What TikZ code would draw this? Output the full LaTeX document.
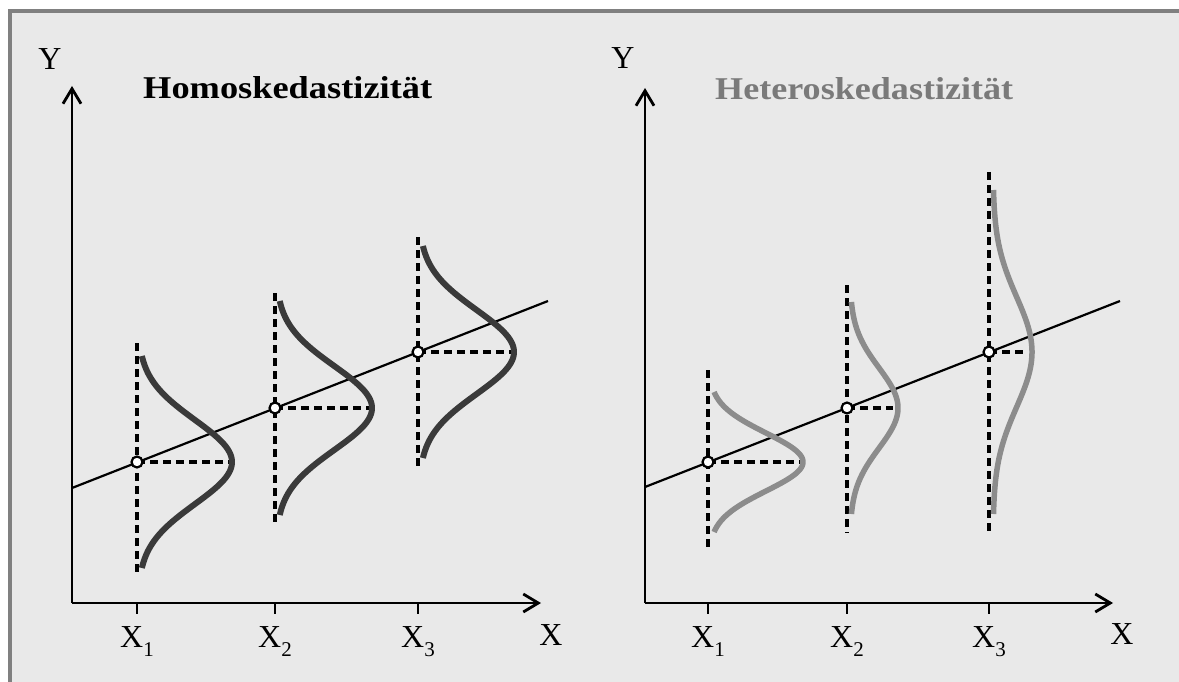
\documentclass[tikz,border=0pt]{standalone}
\usepackage{fontspec}
\setmainfont{Liberation Serif}
\usetikzlibrary{arrows.meta}
\definecolor{bg}{HTML}{E9E9E9}
\definecolor{framegray}{HTML}{808080}
\definecolor{darkcurve}{HTML}{3A3A3A}
\definecolor{lightcurve}{HTML}{8C8C8C}
\definecolor{titlegray}{HTML}{7A7A7A}
\begin{document}
\begin{tikzpicture}[x=1pt,y=-1pt,
  axisline/.style={line width=2.8pt,-{Straight Barb[length=15pt,width=18pt,line width=2.8pt]}},
  tickline/.style={line width=2.8pt},
  regline/.style={line width=2.2pt},
  dashline/.style={line width=3.2pt,dash pattern=on 8pt off 5pt},
  darkc/.style={line width=6pt,darkcurve},
  lightc/.style={line width=5.5pt,lightcurve},
  dot/.style={circle,draw,fill=white,line width=2.2pt,inner sep=0pt,minimum size=11pt},
  lab/.style={inner sep=0pt,anchor=base,font=\fontsize{32pt}{32pt}\selectfont},
  titlenode/.style={inner sep=0pt,anchor=base west}]
\useasboundingbox (0,0) rectangle (1179,682);
% frame
\fill[bg] (9.5,11) rectangle (1200,700);
\draw[framegray,line width=4pt] (9.5,700) -- (9.5,11) -- (1200,11);

\newcommand{\sublab}[1]{X\raisebox{-9pt}{\fontsize{21pt}{21pt}\selectfont #1}}

% ================= LEFT PANEL =================
\coordinate (LO) at (72,603);
\coordinate (LYt) at (72,86);
\coordinate (LXt) at (541,603);
\draw[axisline] (LO) -- (LYt);
\draw[axisline] (LO) -- (LXt);
\node[lab] (LY) at (50,70) {Y};
\node[lab] (LX) at (551,645) {X};
\node[titlenode] (Ltitle) at (143,99) {\resizebox{289pt}{22pt}{\bfseries Homoskedastizität}};
\foreach \n/\xx in {1/137,2/275,3/418}{
  \coordinate (Lt\n a) at (\xx,603);
  \coordinate (Lt\n b) at (\xx,614);
  \draw[tickline] (Lt\n a) -- (Lt\n b);
  \node[lab] (LXl\n) at (\xx,647) {\sublab{\n}};
}
% regression line
\coordinate (Lr0) at (72,488);
\coordinate (Lr1) at (548,301);
\draw[regline] (Lr0) -- (Lr1);
% points
\coordinate (Lp1) at (137,462);
\coordinate (Lp2) at (275,408);
\coordinate (Lp3) at (418,352);
% dashed verticals
\coordinate (Lv1a) at (137,343); \coordinate (Lv1b) at (137,575);
\coordinate (Lv2a) at (275,293); \coordinate (Lv2b) at (275,523);
\coordinate (Lv3a) at (418,237); \coordinate (Lv3b) at (418,468);
\draw[dashline] (Lv1a) -- (Lv1b);
\draw[dashline] (Lv2a) -- (Lv2b);
\draw[dashline] (Lv3a) -- (Lv3b);
% dashed horizontals
\coordinate (Lh1) at (232,462);
\coordinate (Lh2) at (372,408);
\coordinate (Lh3) at (514,352);
\draw[dashline] (Lp1) -- (Lh1);
\draw[dashline] (Lp2) -- (Lh2);
\draw[dashline] (Lp3) -- (Lh3);
% curves
\draw[darkc] plot[domain=-106:106,samples=90,smooth] ({138+94*exp(-0.5*(\x/42)^2)},{462+\x});
\draw[darkc] plot[domain=-107:107,samples=90,smooth] ({276+96*exp(-0.5*(\x/42)^2)},{408+\x});
\draw[darkc] plot[domain=-106:106,samples=90,smooth] ({419+95*exp(-0.5*(\x/42)^2)},{352+\x});
\node[dot] (LP1) at (Lp1) {};
\node[dot] (LP2) at (Lp2) {};
\node[dot] (LP3) at (Lp3) {};

% ================= RIGHT PANEL =================
\coordinate (RO) at (645,603);
\coordinate (RYt) at (645,88);
\coordinate (RXt) at (1113,603);
\draw[axisline] (RO) -- (RYt);
\draw[axisline] (RO) -- (RXt);
\node[lab] (RY) at (623,69) {Y};
\node[lab] (RX) at (1122,644) {X};
\node[titlenode,text=titlegray] (Rtitle) at (715,100) {\resizebox{298pt}{22pt}{\bfseries Heteroskedastizität}};
\foreach \n/\xx in {1/708,2/847,3/989}{
  \coordinate (Rt\n a) at (\xx,603);
  \coordinate (Rt\n b) at (\xx,614);
  \draw[tickline] (Rt\n a) -- (Rt\n b);
  \node[lab] (RXl\n) at (\xx,647) {\sublab{\n}};
}
\coordinate (Rr0) at (645,487);
\coordinate (Rr1) at (1120,301);
\draw[regline] (Rr0) -- (Rr1);
\coordinate (Rp1) at (708,462);
\coordinate (Rp2) at (847,408);
\coordinate (Rp3) at (989,352);
\coordinate (Rv1a) at (708,370); \coordinate (Rv1b) at (708,548);
\coordinate (Rv2a) at (847,285); \coordinate (Rv2b) at (847,533);
\coordinate (Rv3a) at (989,172); \coordinate (Rv3b) at (989,535);
\draw[dashline] (Rv1a) -- (Rv1b);
\draw[dashline] (Rv2a) -- (Rv2b);
\draw[dashline] (Rv3a) -- (Rv3b);
\coordinate (Rh1) at (803,462);
\coordinate (Rh2) at (893,408);
\coordinate (Rh3) at (1027,352);
\draw[dashline] (Rp1) -- (Rh1);
\draw[dashline] (Rp2) -- (Rh2);
\draw[dashline] (Rp3) -- (Rh3);
\draw[lightc] plot[domain=-70:70,samples=90,smooth] ({709+94*exp(-0.5*(\x/29)^2)},{462+\x});
\draw[lightc] plot[domain=-106:106,samples=90,smooth] ({850+48*exp(-0.5*(\x/40)^2)},{408+\x});
\draw[lightc] plot[domain=-162:162,samples=110,smooth] ({993+39*exp(-0.5*(\x/55)^2)},{352+\x});
\node[dot] (RP1) at (Rp1) {};
\node[dot] (RP2) at (Rp2) {};
\node[dot] (RP3) at (Rp3) {};
\end{tikzpicture}
\end{document}
